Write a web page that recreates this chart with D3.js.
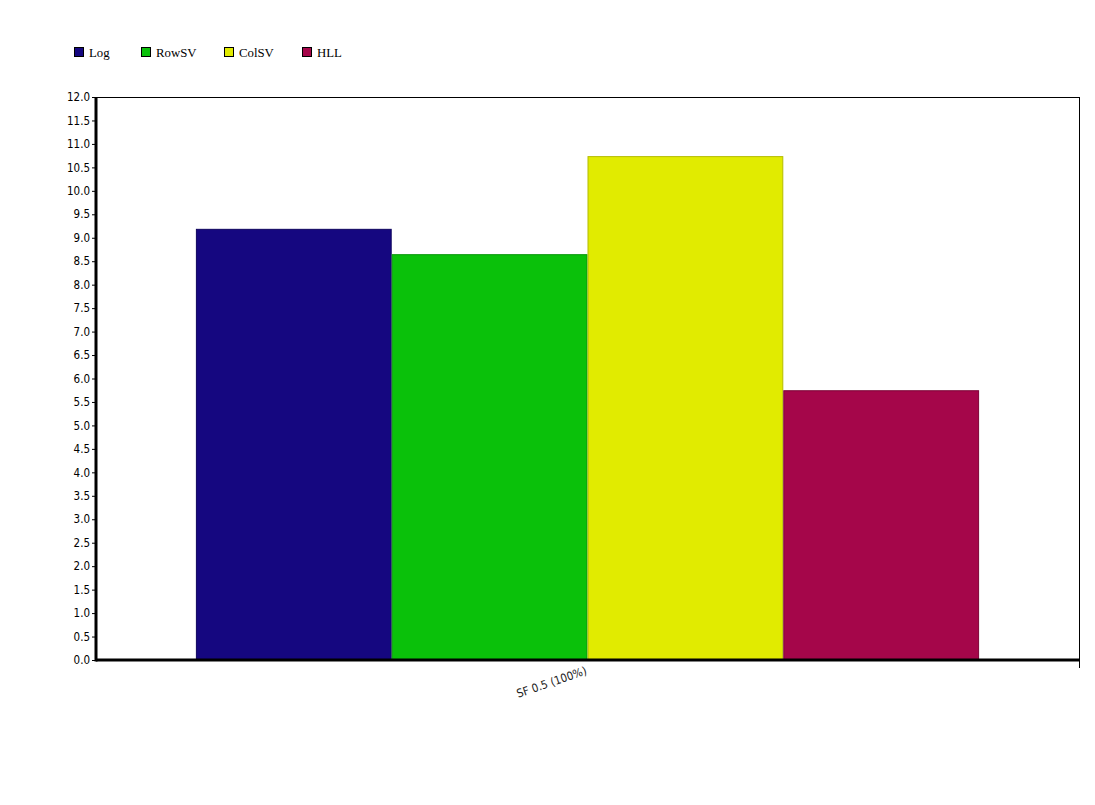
<!DOCTYPE html>
<html><head><meta charset="utf-8">
<script src="https://cdn.jsdelivr.net/npm/d3@7"></script>
<style>body{margin:0;background:#fff}svg{display:block}</style>
</head><body>
<svg id="c" width="1095" height="805"></svg>
<script>
const categories = ["SF 0.5 (100%)"];
const seriesNames = ["Log", "RowSV", "ColSV", "HLL"];
const seriesColors = ["#150780", "#0ac10a", "#e1eb00", "#a5064a"];
const seriesStroke = ["#0f055e", "#08970a", "#b4bc00", "#7d0437"];
const values = [[9.19], [8.65], [10.74], [5.75]];
const yTicks = d3.range(0, 12.01, 0.5);

const svg = d3.select("#c");
const L = 96, R = 1079, T = 97, B = 660;
const y = d3.scaleLinear().domain([0, 12]).range([B, T]);
const x0 = d3.scaleBand().domain(categories).range([L + 2, R - 2]).paddingInner(0.2).paddingOuter(0.1);
const x1 = d3.scaleBand().domain(seriesNames).range([0, x0.bandwidth()]).padding(0);

// frame top/right
svg.append("line").attr("x1", L).attr("x2", R).attr("y1", T + 0.5).attr("y2", T + 0.5).attr("stroke", "#000");
svg.append("line").attr("x1", R + 0.5).attr("x2", R + 0.5).attr("y1", T).attr("y2", B + 8).attr("stroke", "#000");

// bars
categories.forEach((c, ci) => {
  seriesNames.forEach((s, si) => {
    const v = values[si][ci];
    svg.append("rect")
      .attr("x", x0(c) + x1(s) + 0.5)
      .attr("y", y(v) + 0.5)
      .attr("width", x1.bandwidth() - 1)
      .attr("height", y(0) - y(v) - 0.5)
      .attr("fill", seriesColors[si])
      .attr("stroke", seriesStroke[si]).attr("stroke-width", 1);
  });
});

// y axis
const yAxis = d3.axisLeft(y).tickValues(yTicks).tickFormat(d3.format(".1f")).tickSize(4).tickPadding(2);
const gy = svg.append("g").attr("transform", `translate(${L},0)`).call(yAxis);
gy.select(".domain").remove();
gy.selectAll("text").attr("font-family", "DejaVu Sans Condensed, DejaVu Sans").attr("font-size", 11.5).attr("fill", "#000");
svg.append("line").attr("x1", L).attr("x2", L).attr("y1", T).attr("y2", B + 1.5).attr("stroke", "#000").attr("stroke-width", 3);
svg.append("line").attr("x1", L).attr("x2", R).attr("y1", B).attr("y2", B).attr("stroke", "#000").attr("stroke-width", 3);

// x labels
categories.forEach(c => {
  const cx = x0(c) + x0.bandwidth() / 2;
  svg.append("text").attr("transform", `translate(${cx},674) rotate(-19)`)
    .attr("text-anchor", "end").attr("font-family", "DejaVu Sans Condensed, DejaVu Sans").attr("font-size", 11.5)
    .attr("fill", "#222").text(c);
});

// legend
const legX = [74, 141, 224, 302];
seriesNames.forEach((s, i) => {
  const g = svg.append("g").attr("transform", `translate(${legX[i]},47)`);
  g.append("rect").attr("x", 0.5).attr("y", 0.5).attr("width", 9).attr("height", 9)
    .attr("fill", seriesColors[i]).attr("stroke", "#000");
  g.append("text").attr("x", 15).attr("y", 10).attr("font-family", "Liberation Serif, serif")
    .attr("font-size", 12.8).attr("fill", "#000").text(s);
});
</script>
</body></html>
